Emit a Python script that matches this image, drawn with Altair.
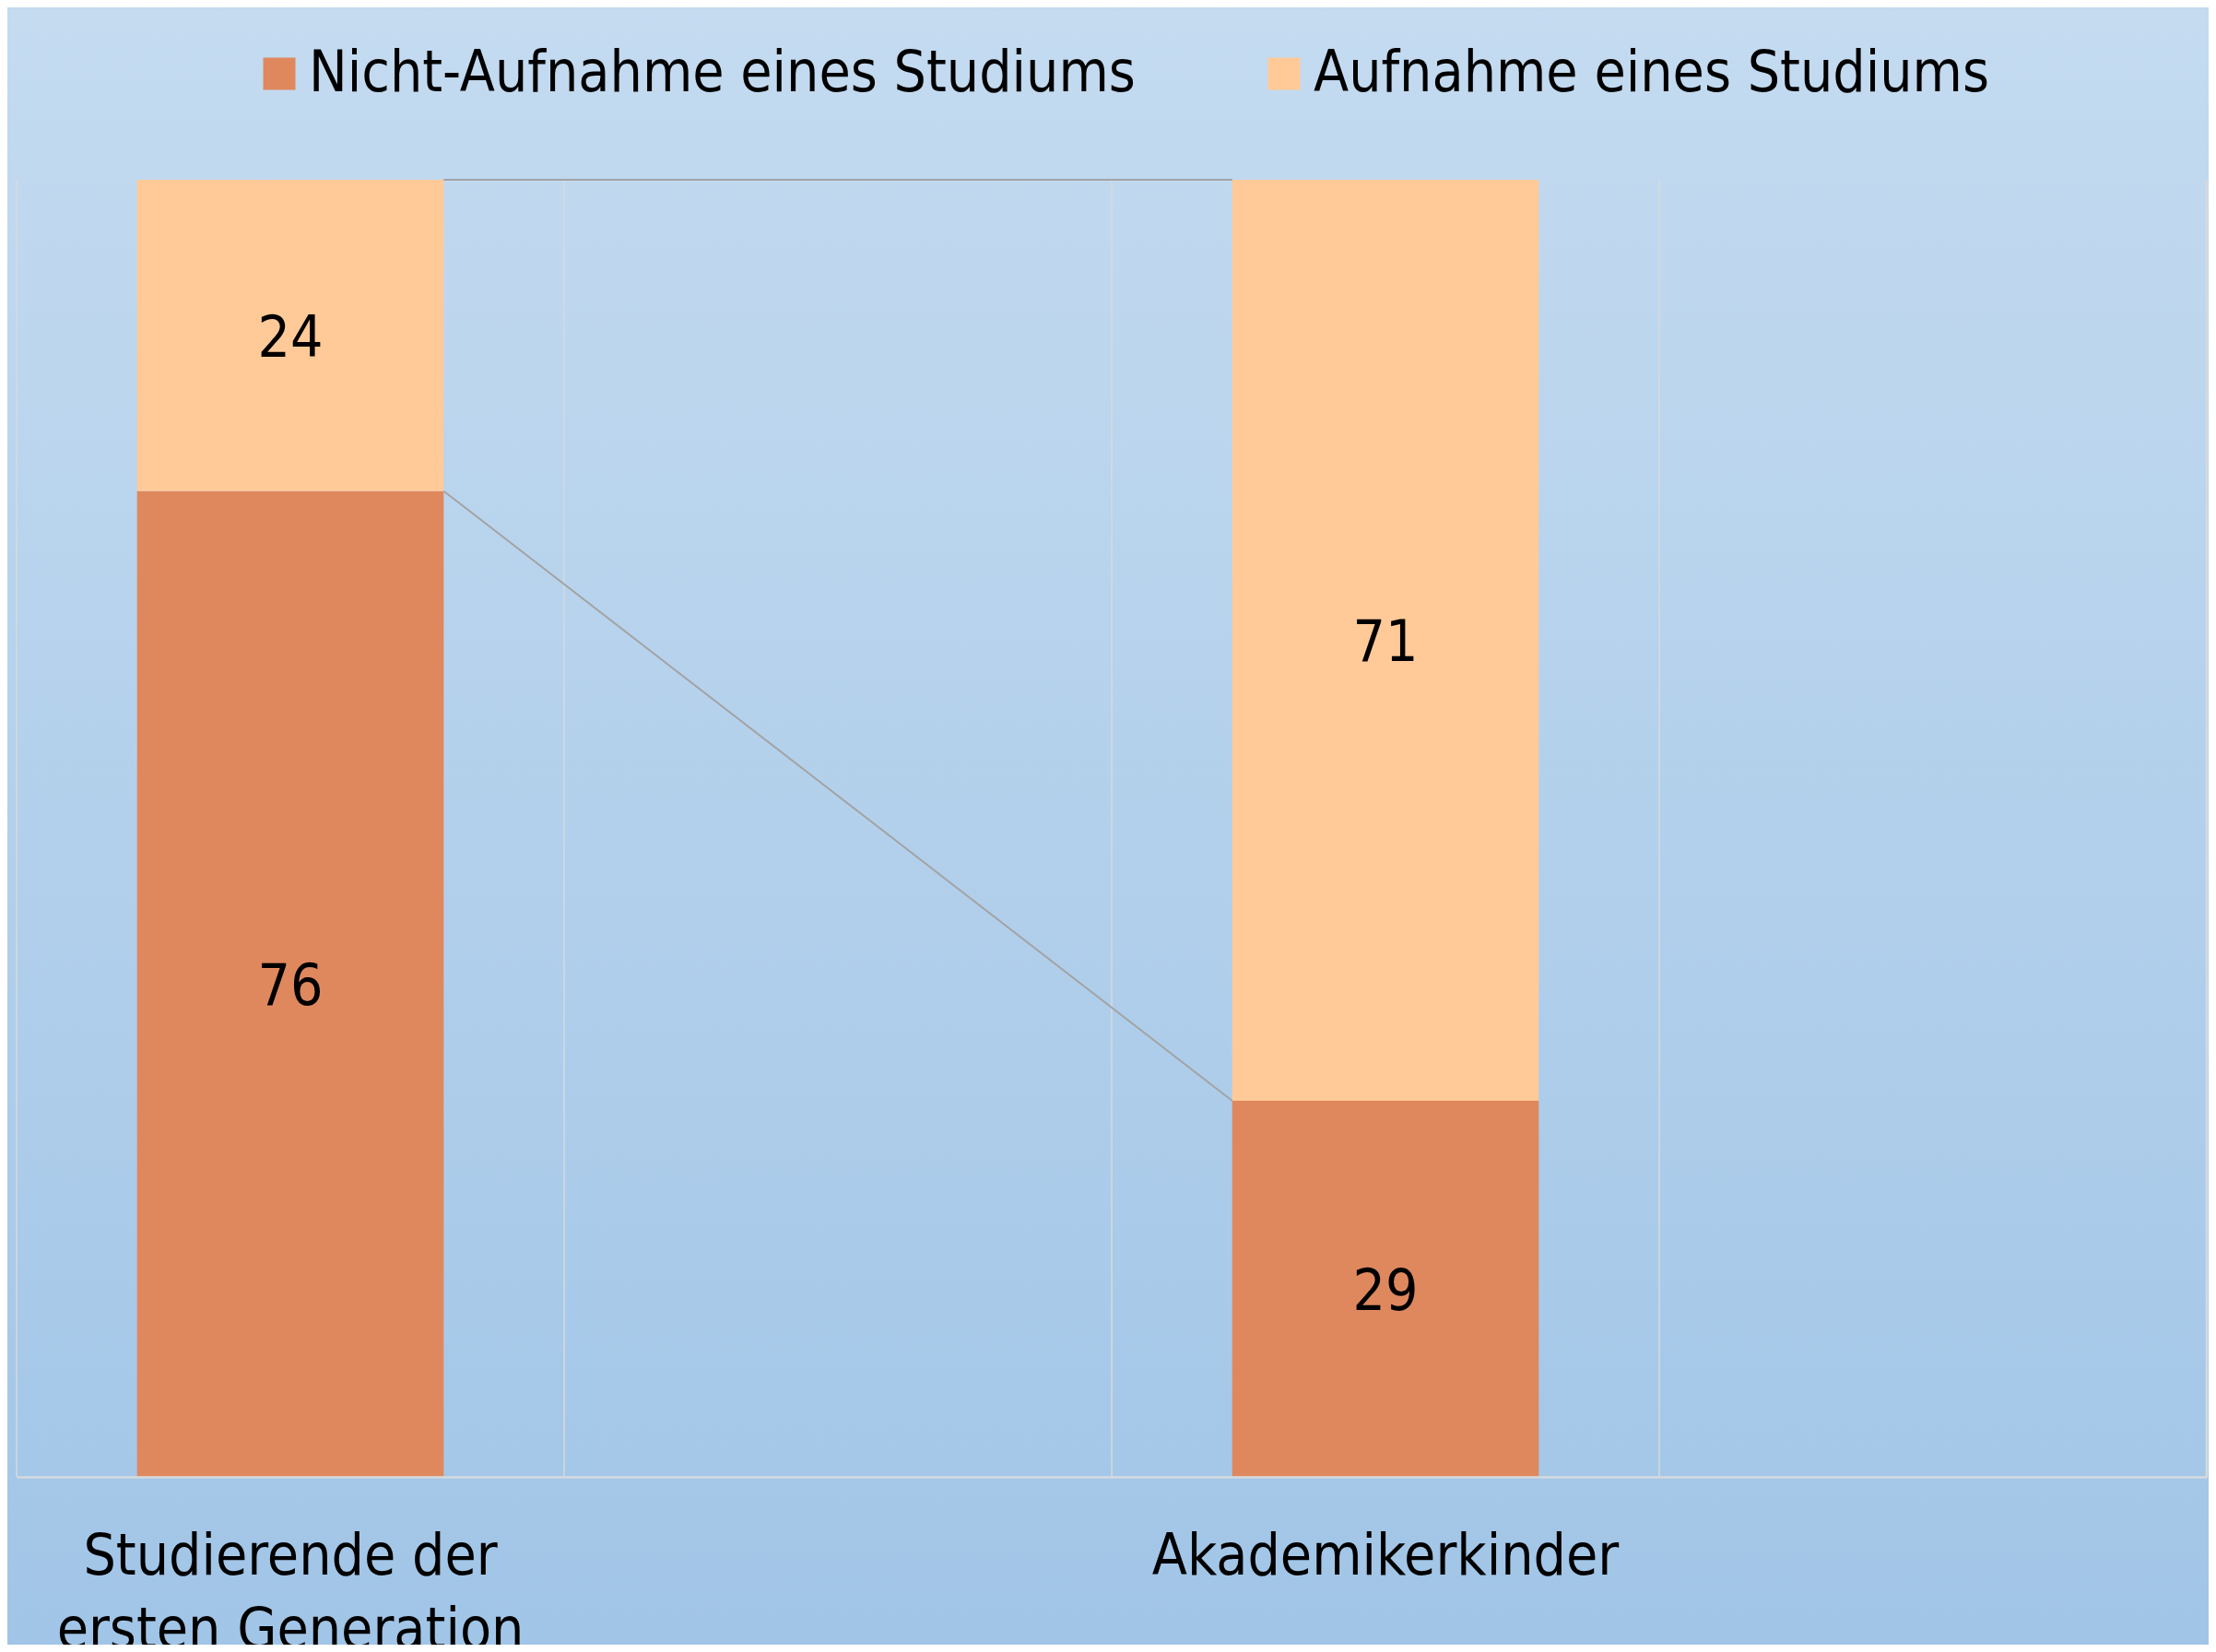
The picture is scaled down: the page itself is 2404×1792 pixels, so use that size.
import altair as alt
import pandas as pd

# ---- data ----
categories = ["Studierende der ersten Generation", "Akademikerkinder"]
band_domain = ["Studierende der ersten Generation", "leer1", "Akademikerkinder", "leer2"]
series = ["Nicht-Aufnahme eines Studiums", "Aufnahme eines Studiums"]
nicht_aufnahme = [76, 29]
aufnahme = [24, 71]
series_colors = ["#DF885E", "#FFCA98"]

FONT = "DejaVu Sans Condensed, DejaVu Sans"
FS = 62
W, H = 2376, 1407
PAD_L, PAD_T, PAD_R, PAD_B = 10, 187, 2, 182
P_IN, P_OUT = 0.44, 0.22
STEP = W / len(band_domain)

rows = []
for ci, cat in enumerate(categories):
    for si, (s, vals) in enumerate(zip(series, [nicht_aufnahme, aufnahme])):
        rows.append({"cat": cat, "series": s, "value": vals[ci], "ord": si})
df = pd.DataFrame(rows)

# series lines (connectors) between the stacked tops
conn = []
for si, s in enumerate(series):
    tops = []
    for ci in range(len(categories)):
        tops.append(sum([nicht_aufnahme, aufnahme][k][ci] for k in range(si + 1)))
    conn.append({"from": categories[0], "to": categories[1], "y_from": tops[0], "y_to": tops[1]})
conn_df = pd.DataFrame(conn)

xscale = alt.Scale(domain=band_domain, paddingInner=P_IN, paddingOuter=P_OUT)
yscale = alt.Scale(domain=[0, 100], nice=False)

label_expr = ("datum.value == 'Studierende der ersten Generation' ? "
              "['Studierende der', 'ersten Generation'] : "
              "(indexof(datum.value, 'leer') == 0 ? '' : datum.value)")

bg = alt.Chart(alt.Data(values=[{"a": 1}])).mark_rect(
    fill=alt.LinearGradient(
        gradient="linear", x1=0, y1=0, x2=0, y2=1,
        stops=[alt.GradientStop(color="#C4DBF0", offset=0),
               alt.GradientStop(color="#A1C5E7", offset=1)]),
    stroke=None,
).encode(
    x=alt.value(-PAD_L - 10), x2=alt.value(W + PAD_R + 10),
    y=alt.value(-PAD_T - 10), y2=alt.value(H + PAD_B + 10),
)

bars = alt.Chart(df).transform_stack(
    stack="value", groupby=["cat"], as_=["v0", "v1"],
    sort=[alt.SortField("ord", order="ascending")],
).mark_bar(stroke=None).encode(
    x=alt.X("cat:N", scale=xscale, title=None,
            axis=alt.Axis(grid=False, ticks=False, tickSize=0, bandPosition=0.5,
                          labelExpr=label_expr, labelFont=FONT, labelFontSize=FS,
                          labelColor="black", labelPadding=56, labelLineHeight=80,
                          labelAngle=0, labelLimit=1000,
                          domainColor="#D6DADE", domainWidth=2.5, zindex=1)),
    y=alt.Y("v0:Q", scale=yscale, axis=None),
    y2="v1:Q",
    color=alt.Color("series:N", scale=alt.Scale(domain=series, range=series_colors),
                    legend=alt.Legend(title=None, orient="none", direction="horizontal",
                                      legendX=254, legendY=-146,
                                      symbolType="square", symbolSize=1225,
                                      symbolStrokeWidth=0, labelFont=FONT,
                                      labelFontSize=FS, labelColor="black",
                                      labelOffset=1, labelLimit=2000,
                                      columnPadding=130)),
)

# vertical gridlines at the category boundaries
grid = alt.Chart(pd.DataFrame({"cat": band_domain})).mark_rule(
    color="#D6DADE", strokeWidth=1.5, xOffset=-P_OUT * STEP
).encode(
    x=alt.X("cat:N", scale=xscale, bandPosition=0),
    y=alt.value(0), y2=alt.value(H),
)

labels = alt.Chart(df).transform_stack(
    stack="value", groupby=["cat"], as_=["v0", "v1"],
    sort=[alt.SortField("ord", order="ascending")],
).transform_calculate(
    mid="(datum.v0 + datum.v1) / 2"
).mark_text(font=FONT, fontSize=FS, color="black", baseline="middle", align="center", dy=4).encode(
    x=alt.X("cat:N", scale=xscale, bandPosition=0.5),
    y=alt.Y("mid:Q", scale=yscale, axis=None),
    text=alt.Text("value:Q"),
)

connectors = alt.Chart(conn_df).mark_rule(color="#A3A3A3", strokeWidth=2).encode(
    x=alt.X("from:N", scale=xscale, bandPosition=1),
    x2=alt.X2("to:N", bandPosition=0),
    y=alt.Y("y_from:Q", scale=yscale, axis=None),
    y2=alt.Y2("y_to:Q"),
)

right_edge = alt.Chart(alt.Data(values=[{"a": 1}])).mark_rule(
    color="#D6DADE", strokeWidth=2.5
).encode(x=alt.value(W), y=alt.value(0), y2=alt.value(H))

chart = alt.layer(bg, bars, grid, connectors, labels, right_edge).properties(
    width=W, height=H,
    autosize=alt.AutoSizeParams(type="none"),
    padding={"left": PAD_L, "top": PAD_T, "right": PAD_R, "bottom": PAD_B},
    background="#B3D0EB",
).configure_view(stroke=None)

chart.save("out.html", embed_options={"renderer": "svg", "actions": False})
